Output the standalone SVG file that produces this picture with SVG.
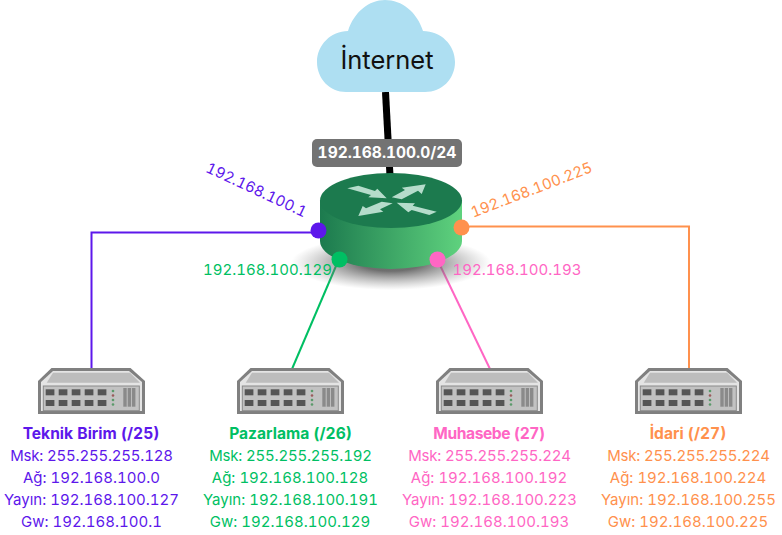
<svg xmlns="http://www.w3.org/2000/svg" xmlns:xlink="http://www.w3.org/1999/xlink" width="782" height="535" viewBox="0 0 782 535">
<style>
text{font-family:Inter,"Noto Sans","Liberation Sans",sans-serif;font-size:15px;text-anchor:middle;font-variant-numeric:tabular-nums;font-feature-settings:"tnum"}
.h{font-weight:700;font-size:15.600px}
.n{letter-spacing:-.2px}
.p{fill:#5d17eb}.g{fill:#00bf63}.m{fill:#ff66c4}.o{fill:#ff914d}
.l{fill:none;stroke-width:2}
.a{fill:#b5dccb}
</style>
<defs>
<linearGradient id="rg" x1="0" x2="1" y1="0" y2="0"><stop offset="0" stop-color="#1c7a4e"/><stop offset="1" stop-color="#5fd27e"/></linearGradient>
<radialGradient id="sh"><stop offset="0.3" stop-color="#555" stop-opacity=".85"/><stop offset="1" stop-color="#888" stop-opacity="0"/></radialGradient>
<g id="sw">
<path d="M13.500 0H92.500L107 13V46H0V13Z" fill="#808080"/>
<path d="M15 3H91L104 14V43H3V14Z" fill="#e4e4e4"/>
<path d="M15 4.700H92L102 14.700H8.700Z" fill="#bdbdbd"/>
<rect x="5.300" y="18" width="96" height="24.700" fill="#c2c2c2" stroke="#8a8a8a"/>
<g fill="#555"><rect x="7.700" y="21.300" width="8.700" height="6"/><rect x="20.700" y="21.300" width="8.700" height="6"/><rect x="33.700" y="21.300" width="8.700" height="6"/><rect x="46.700" y="21.300" width="8.700" height="6"/><rect x="59.700" y="21.300" width="8.700" height="6"/><rect x="7.700" y="32" width="8.700" height="6"/><rect x="20.700" y="32" width="8.700" height="6"/><rect x="33.700" y="32" width="8.700" height="6"/><rect x="46.700" y="32" width="8.700" height="6"/><rect x="59.700" y="32" width="8.700" height="6"/></g>
<g fill="#5a9a6a"><circle cx="75" cy="23" r="1.300"/><circle cx="75" cy="32" r="1.300"/><circle cx="75" cy="36.500" r="1.300"/></g><circle cx="75" cy="27.500" r="1.300" fill="#9a5a5a"/>
<g fill="#8a8a8a"><rect x="85.300" y="20" width="3.400" height="18.700"/><rect x="89.700" y="20" width="3.400" height="18.700"/><rect x="94" y="20" width="3.400" height="18.700"/></g>
</g>
</defs>
<g id="connectors">
<path d="M385.500 92L390 176" fill="none" stroke="#000" stroke-width="7"/>
<path class="l" d="M91.500 369V232.500H318" stroke="#5d17eb"/>
<path class="l" d="M292 369L339 259" stroke="#00bf63"/>
<path class="l" d="M490 369L437 259" stroke="#ff66c4"/>
<path class="l" d="M689 369V226.500H461" stroke="#ff914d"/>
</g>
<g id="internet">
<path d="M346 92C330 92 317 79 317 62C317 45 331 31 348 31C354 12 369 0 385 0C402 0 417 12 423 31C441 31 455 45 455 62C455 79 442 92 425 92Z" fill="#aedff2"/>
<text x="387" y="69" style="font-size:25.500px;fill:#111">İnternet</text>
</g>
<g id="router">
<ellipse cx="391" cy="263" rx="100" ry="27" fill="url(#sh)"/>
<path d="M320 200.500V241A71 28 0 0 0 462 241V200.500Z" fill="url(#rg)"/>
<ellipse cx="391" cy="200.500" rx="71" ry="27.500" fill="#1c7a4e"/>
<path class="a" d="M347.300 188.300L358.300 185.700 375 191 377.300 188.700 386.700 198.300 368.300 197.300 371 195Z"/>
<path class="a" d="M391.700 197.300L405 190 401.700 187.700 425.700 184.300 421.700 194 418 190.700 401.700 199.300Z"/>
<path class="a" d="M392.700 203.300L380 209.300 383.300 211.700 358.300 216 362.700 206 366 208.300 381.700 201.700Z"/>
<path class="a" d="M396.700 202.700L415 203.300 412.700 205.700 436.700 211.700 429.300 215 411.700 210 408.300 212.300Z"/>
</g>
<g id="subnet-label">
<rect x="312" y="139" width="150" height="28" rx="5" fill="#737373"/>
<text x="387" y="158" style="fill:#fff;font-size:15.500px;font-weight:700">192.168.100.0/24</text>
</g>
<g id="ports">
<circle cx="318.500" cy="230.500" r="8" class="p"/>
<circle cx="339.500" cy="259.500" r="8" class="g"/>
<circle cx="437.500" cy="259.500" r="8" class="m"/>
<circle cx="461.500" cy="227.500" r="8" class="o"/>
</g>
<text class="p" x="256.500" y="195" transform="rotate(25 256.500 190)">192.168.100.1</text>
<text class="g" x="267.500" y="275">192.168.100.129</text>
<text class="m" x="517" y="275">192.168.100.193</text>
<text class="o" x="531.500" y="195" transform="rotate(-21 531.500 190)">192.168.100.225</text>
<g id="sw1"><use xlink:href="#sw" href="#sw" x="38" y="368"/>
<text class="p h" x="91" y="439">Teknik Birim (/25)</text>
<text class="p n" x="91.500" y="461">Msk: 255.255.255.128</text><text class="p" x="91.500" y="483">Ağ: 192.168.100.0</text><text class="p" x="91.500" y="505">Yayın: 192.168.100.127</text><text class="p" x="91.500" y="527">Gw: 192.168.100.1</text></g>
<g id="sw2"><use xlink:href="#sw" href="#sw" x="237" y="368"/>
<text class="g h" x="290.500" y="439">Pazarlama (/26)</text>
<text class="g n" x="290.500" y="461">Msk: 255.255.255.192</text><text class="g" x="290" y="483">Ağ: 192.168.100.128</text><text class="g" x="290.500" y="505">Yayın: 192.168.100.191</text><text class="g" x="290" y="527">Gw: 192.168.100.129</text></g>
<g id="sw3"><use xlink:href="#sw" href="#sw" x="436" y="368"/>
<text class="m h" x="489" y="439" style="letter-spacing:-.4px">Muhasebe (27)</text>
<text class="m n" x="489.500" y="461">Msk: 255.255.255.224</text><text class="m" x="489" y="483">Ağ: 192.168.100.192</text><text class="m" x="489.500" y="505">Yayın: 192.168.100.223</text><text class="m" x="489" y="527">Gw: 192.168.100.193</text></g>
<g id="sw4"><use xlink:href="#sw" href="#sw" x="635" y="368"/>
<text class="o h" x="688" y="439">İdari (/27)</text>
<text class="o n" x="688.500" y="461">Msk: 255.255.255.224</text><text class="o" x="688" y="483">Ağ: 192.168.100.224</text><text class="o" x="688.500" y="505">Yayın: 192.168.100.255</text><text class="o" x="688" y="527">Gw: 192.168.100.225</text></g>
</svg>
